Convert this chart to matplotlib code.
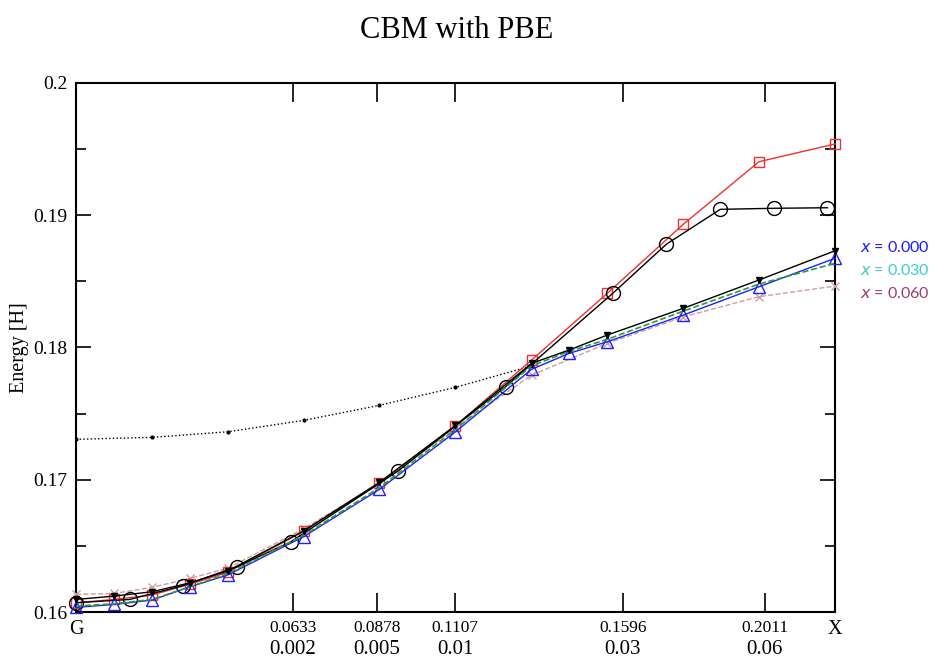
import numpy as np
import matplotlib
matplotlib.use("Agg")
import matplotlib.pyplot as plt
from matplotlib.ticker import MultipleLocator, FormatStrFormatter

# ===== CBM with PBE: band energies along G -> X =====
k_max = 0.2216

# k positions (fine grid) and series on it
k_tri = [0.0, 0.0111, 0.0222, 0.0332, 0.0443, 0.0665, 0.0886, 0.1108,
         0.1330, 0.1440, 0.1551, 0.1773, 0.1994, 0.2216]
e_blue = [0.16035, 0.16057, 0.1609, 0.1619, 0.1628, 0.1657, 0.16927, 0.17362,
          0.17834, 0.17955, 0.18042, 0.18244, 0.18458, 0.18673]
e_black_v = [0.16095, 0.1612, 0.16153, 0.1622, 0.1631, 0.16614, 0.1698, 0.1741,
             0.17879, 0.1798, 0.18093, 0.18295, 0.18509, 0.1873]
e_green = [0.16045, 0.16062, 0.16095, 0.1619, 0.1629, 0.1658, 0.1694, 0.1738,
           0.1786, 0.1797, 0.1806, 0.18274, 0.18478, 0.18635]

k_sq = [0.0, 0.0111, 0.0222, 0.0332, 0.0443, 0.0665, 0.0886, 0.1108,
        0.1330, 0.1551, 0.1773, 0.1994, 0.2216]
e_red = [0.1607, 0.16095, 0.16128, 0.1621, 0.1630, 0.1661, 0.16972, 0.17407,
         0.17904, 0.18408, 0.1893, 0.19403, 0.19537]
e_pink = [0.16133, 0.1614, 0.16186, 0.16254, 0.1633, 0.1663, 0.1697, 0.1739,
          0.1779, 0.1803, 0.1823, 0.18383, 0.18463]

# circles sit on a coarser grid
k_circ = [0.0, 0.0157, 0.0313, 0.0470, 0.0627, 0.0940, 0.1254, 0.1567,
          0.1724, 0.1881, 0.2037, 0.2194]
e_circ = [0.1607, 0.16095, 0.1620, 0.16342, 0.1653, 0.17065, 0.17702, 0.18408,
          0.1878, 0.19043, 0.19051, 0.19055]

# dotted reference curve
k_dot = [0.0, 0.0222, 0.0443, 0.0665, 0.0886, 0.1108, 0.1330]
e_dot = [0.17305, 0.1732, 0.17362, 0.17448, 0.17562, 0.17698, 0.1786]

# x ticks: k value (top row) and concentration (bottom row)
tick_k = [0.0633, 0.0878, 0.1107, 0.1596, 0.2011]
tick_top = ["0.0633", "0.0878", "0.1107", "0.1596", "0.2011"]
tick_bottom = ["0.002", "0.005", "0.01", "0.03", "0.06"]

legend_labels = ["x = 0.000", "x = 0.030", "x = 0.060"]
legend_colors = ["#1a1aff", "#3ccccc", "#a03a6e"]

serif = "Liberation Serif"

fig = plt.figure(figsize=(9.31, 6.59), dpi=100)
ax = fig.add_axes([0.0816, 0.0713, 0.8153, 0.8032])

lw = 1.0
ax.plot(k_dot, e_dot, ls=":", color="black", lw=1.0, marker="o", ms=2, zorder=2)
ax.plot(k_sq, e_pink, ls="--", color="#c9a0a0", lw=lw, marker="x", ms=6,
        zorder=3, clip_on=False)
ax.plot(k_sq, e_red, ls="-", color="#f03030", lw=lw, marker="s", ms=7,
        mfc="none", mec="#f03030", zorder=4, clip_on=False)
ax.plot(k_circ, e_circ, ls="-", color="black", lw=lw, marker="o", ms=10,
        mfc="none", mec="black", zorder=5, clip_on=False)
ax.plot(k_tri, e_blue, ls="-", color="#2020ff", lw=lw, marker="^", ms=8,
        mfc="none", mec="#2020ff", zorder=6, clip_on=False)
ax.plot(k_tri, e_green, ls="--", color="#2ca02c", lw=1.2, zorder=7)
ax.plot(k_tri, e_black_v, ls="-", color="black", lw=lw, marker="v", ms=5,
        mfc="black", zorder=8, clip_on=False)

ax.set_xlim(0, k_max)
ax.set_ylim(0.16, 0.2)

# y axis ticks inward on both sides
ax.yaxis.set_major_locator(MultipleLocator(0.01))
ax.yaxis.set_minor_locator(MultipleLocator(0.005))
ax.yaxis.set_major_formatter(FormatStrFormatter("%g"))
ax.tick_params(axis="y", which="major", direction="in", length=11, width=1.2,
               right=True, labelsize=14, pad=6)
ax.tick_params(axis="y", which="minor", direction="in", length=7, width=1.2,
               right=True)
for lab in ax.get_yticklabels():
    lab.set_fontfamily(serif)

# x axis: G, tick values, X
ax.set_xticks([0.0] + tick_k + [k_max])
ax.set_xticklabels(["G"] + tick_top + ["X"], fontfamily=serif, fontsize=12.5)
ax.tick_params(axis="x", direction="in", length=14, width=1.2, top=True, pad=6)
for i, lab in enumerate(ax.get_xticklabels()):
    if i == 0 or i == len(tick_k) + 1:
        lab.set_fontsize(14.5)
xt = ax.get_xaxis().get_major_ticks()
for t in (xt[0], xt[-1]):
    t.tick1line.set_visible(False)
    t.tick2line.set_visible(False)

for kv, lab in zip(tick_k, tick_bottom):
    ax.text(kv, -0.07, lab, transform=ax.get_xaxis_transform(), ha="center",
            va="center", fontsize=15, fontfamily=serif)

for sp in ax.spines.values():
    sp.set_linewidth(1.5)

fig.text(20 / 931, 0.473, "Energy [H]", rotation=90, ha="center", va="center",
         fontfamily=serif, fontsize=14.5)
fig.text(0.49, 0.953, "CBM with PBE", ha="center", va="center",
         fontfamily=serif, fontsize=22)

# coloured composition labels to the right of the frame
for i, (lab, col) in enumerate(zip(legend_labels, legend_colors)):
    fig.text(0.924, 0.625 - i * 0.035, "$x$" + lab[1:], color=col,
             fontfamily="Lato", fontsize=11.5, ha="left", va="center")

plt.savefig("out.png", dpi=100)
